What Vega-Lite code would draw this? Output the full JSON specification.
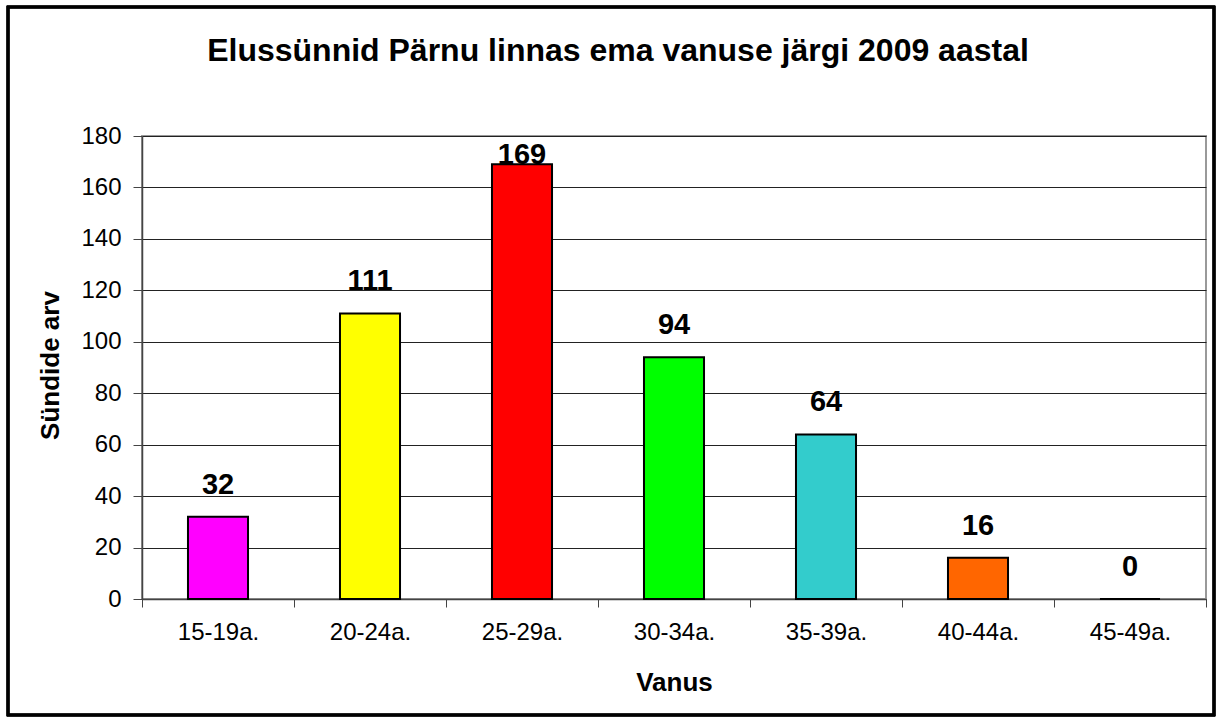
{
  "$schema": "https://vega.github.io/schema/vega-lite/v6.json",
  "width": 1064,
  "height": 463,
  "autosize": {"type": "none"},
  "padding": {"left": 142, "top": 136, "right": 17, "bottom": 123},
  "background": "white",
  "title": {
    "text": "Elussünnid Pärnu linnas ema vanuse järgi 2009 aastal",
    "font": "Liberation Sans",
    "fontSize": 32,
    "fontWeight": "bold",
    "color": "black",
    "anchor": "middle",
    "frame": "group",
    "dx": -56,
    "baseline": "alphabetic",
    "offset": -87
  },
  "data": {
    "values": [
      {"vanus": "15-19a.", "value": 32, "color": "#FF00FF"},
      {"vanus": "20-24a.", "value": 111, "color": "#FFFF00"},
      {"vanus": "25-29a.", "value": 169, "color": "#FF0000"},
      {"vanus": "30-34a.", "value": 94, "color": "#00FF00"},
      {"vanus": "35-39a.", "value": 64, "color": "#33CCCC"},
      {"vanus": "40-44a.", "value": 16, "color": "#FF6600"},
      {"vanus": "45-49a.", "value": 0, "color": "#FFFFFF"}
    ]
  },
  "encoding": {
    "x": {
      "field": "vanus",
      "type": "nominal",
      "sort": null,
      "scale": {"paddingInner": 0, "paddingOuter": 0},
      "axis": {
        "title": "Vanus",
        "titleFont": "Liberation Sans",
        "titleFontSize": 26,
        "titleFontWeight": "bold",
        "titleColor": "black",
        "titleX": 532,
        "titleY": 83,
        "titleBaseline": "middle",
        "labelAngle": 0,
        "labelFont": "Liberation Sans",
        "labelFontSize": 24,
        "labelColor": "black",
        "labelPadding": 13,
        "tickBand": "extent",
        "tickSize": 8,
        "tickColor": "#444444",
        "domainColor": "#444444",
        "domainWidth": 1.5,
        "grid": false
      }
    }
  },
  "layer": [
    {
      "mark": {"type": "rect", "fill": null, "stroke": "black", "strokeWidth": 2.5, "clip": false},
      "encoding": {
        "x": {"value": -134},
        "x2": {"value": 1072},
        "y": {"value": -129},
        "y2": {"value": 579}
      }
    },
    {
      "mark": {"type": "bar", "width": {"band": 0.395}, "stroke": "black", "strokeWidth": 2},
      "encoding": {
        "y": {
          "field": "value",
          "type": "quantitative",
          "scale": {"domain": [0, 180], "nice": false},
          "axis": {
            "title": "Sündide arv",
            "titleFont": "Liberation Sans",
            "titleFontSize": 26,
            "titleFontWeight": "bold",
            "titleColor": "black",
            "titleAngle": -90,
            "titleX": -92,
            "titleY": 229,
            "titleAlign": "center",
            "titleBaseline": "middle",
            "values": [0, 20, 40, 60, 80, 100, 120, 140, 160, 180],
            "labelFont": "Liberation Sans",
            "labelFontSize": 24,
            "labelColor": "black",
            "labelPadding": 12,
            "tickSize": 9,
            "tickColor": "#444444",
            "domainColor": "#444444",
            "domainWidth": 1.5,
            "grid": true,
            "gridColor": "#222222",
            "gridWidth": 1.2
          }
        },
        "fill": {"field": "color", "type": "nominal", "scale": null, "legend": null}
      }
    },
    {
      "transform": [{"calculate": "min(datum.value, 160)", "as": "labelPos"}],
      "mark": {
        "type": "text",
        "font": "Liberation Sans",
        "fontSize": 29,
        "fontWeight": "bold",
        "color": "black",
        "baseline": "alphabetic",
        "dy": -23
      },
      "encoding": {
        "y": {"field": "labelPos", "type": "quantitative"},
        "text": {"field": "value", "type": "quantitative"}
      }
    }
  ],
  "config": {
    "view": {"stroke": "#999999", "strokeWidth": 2}
  }
}
